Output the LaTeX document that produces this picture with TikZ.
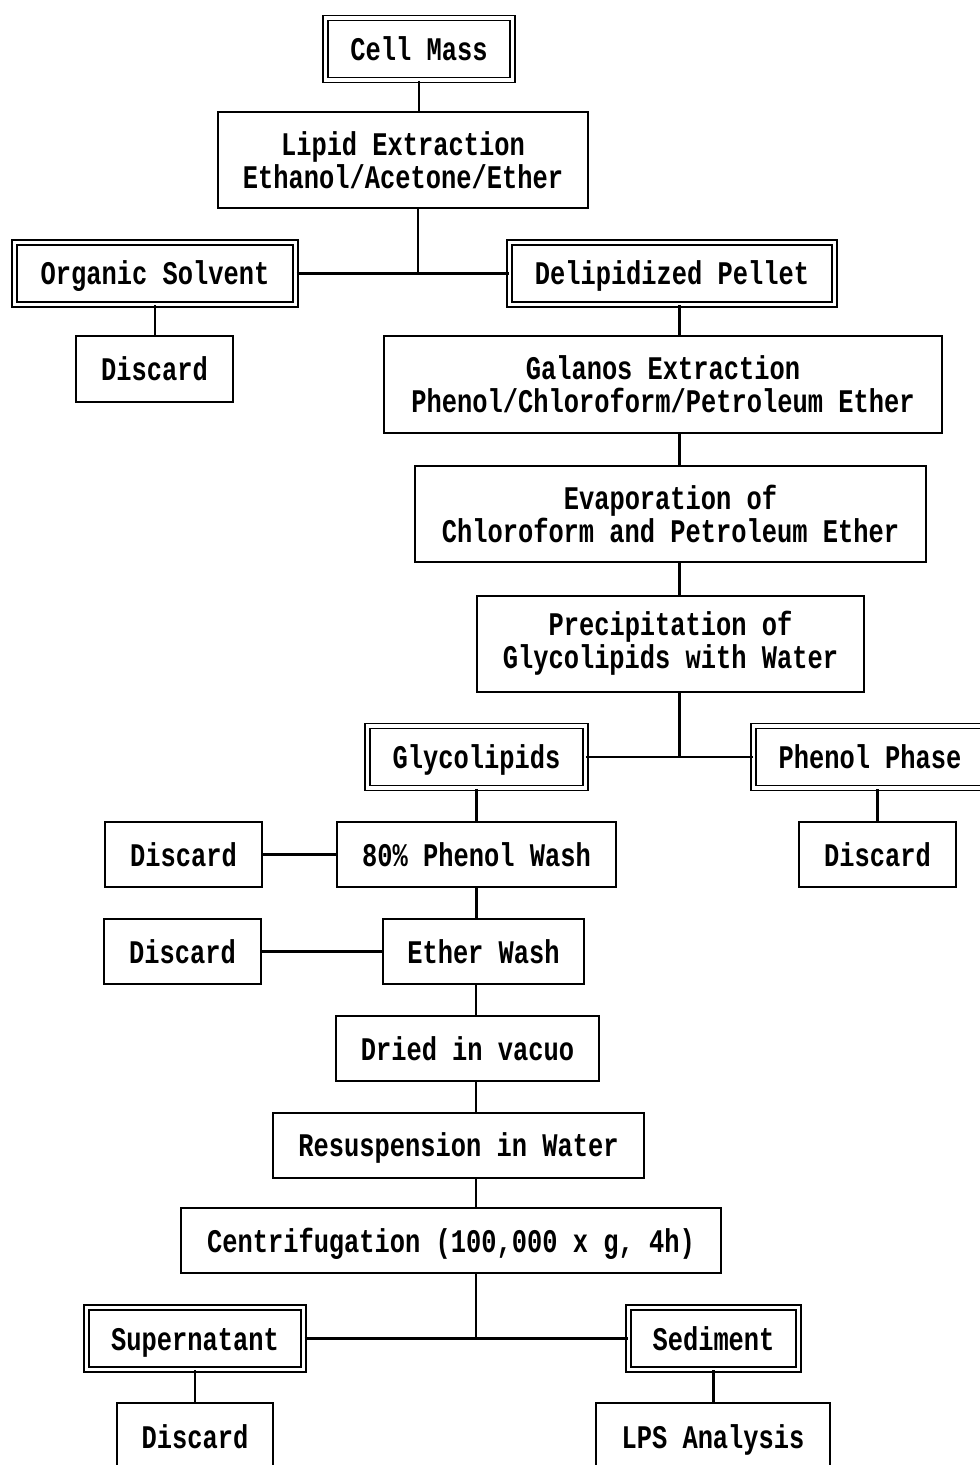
\documentclass[tikz,border=0pt]{standalone}
\usepackage{fontspec}
\newfontfamily\flowfont[FakeStretch=0.77]{Liberation Mono}
\usepackage{tikz}
\tikzset{
  box base/.style={
    draw,
    line width=1pt,
    inner sep=0pt,
    align=center,
    font=\flowfont\bfseries\fontsize{16.5}{16.5}\selectfont
  },
  step box/.style={
    box base,
    minimum height=32.5pt,
    text height=13pt,
    text depth=1.5pt
  },
  tall box/.style={
    box base,
    minimum height=48pt
  },
  fraction box/.style={
    step box,
    line width=0.9pt,
    double,
    double distance=1.6pt,
    minimum height=31pt
  },
  link/.style={
    line width=1.1pt
  }
}

\begin{document}
\begin{tikzpicture}[x=0.5pt,y=-0.5pt]

    \useasboundingbox (0,0) rectangle (979,1465);

    % ---------- 脂質抽出 ----------
    \node[fraction box, minimum width=93.6pt] (cell) at (419,49) {Cell Mass};
    \node[tall box, minimum width=185pt] (lipid) at (403,160.5)
      {Lipid Extraction\\Ethanol/Acetone/Ether};

    \node[fraction box, minimum width=140.6pt] (organic) at (155,273.5) {Organic Solvent};
    \node[fraction box, minimum width=162.6pt] (delip) at (672,273.5) {Delipidized Pellet};
    \node[step box, minimum width=78.5pt] (discardA) at (154.5,369) {Discard};

    % ---------- Galanos 抽出 ----------
    \node[tall box, minimum width=279pt] (galanos) at (663,384.5)
      {Galanos Extraction\\Phenol/Chloroform/Petroleum Ether};
    \node[tall box, minimum width=255.5pt] (evap) at (670.5,514)
      {Evaporation of\\Chloroform and Petroleum Ether};
    \node[tall box, minimum width=193.5pt] (precip) at (670.5,643.5)
      {Precipitation of\\Glycolipids with Water};

    \node[fraction box, minimum width=109pt] (glyco) at (476.5,757) {Glycolipids};
    \node[fraction box, minimum width=116.6pt] (phenol) at (870,757) {Phenol Phase};

    % ---------- 洗浄 ----------
    \node[step box, minimum width=78.5pt] (discardB) at (183.5,854.5) {Discard};
    \node[step box, minimum width=139.5pt] (pwash) at (476.5,854.5) {80\% Phenol Wash};
    \node[step box, minimum width=78.5pt] (discardC) at (877.5,854.5) {Discard};

    \node[step box, minimum width=78.5pt] (discardD) at (182.5,951.5) {Discard};
    \node[step box, minimum width=100.5pt] (ewash) at (483.5,951.5) {Ether Wash};

    \node[step box, minimum width=131.5pt] (dried) at (467.5,1048.5) {Dried in vacuo};
    \node[step box, minimum width=185.5pt] (resusp) at (458.5,1145) {Resuspension in Water};
    \node[step box, minimum width=270pt] (centri) at (451,1240.5)
      {Centrifugation (100,000 x g, 4h)};

    % ---------- 遠心分離の結果 ----------
    \node[fraction box, minimum width=108.6pt] (super) at (195,1338.5) {Supernatant};
    \node[fraction box, minimum width=85pt] (sediment) at (713.5,1338.5) {Sediment};
    \node[step box, minimum width=78pt, minimum height=33.5pt] (discardE) at (195,1436.5) {Discard};
    \node[step box, minimum width=117pt, minimum height=33.5pt] (lps) at (713,1436.5) {LPS Analysis};

    % ---------- 接続線 ----------
    \coordinate (forkA) at (418,273.5);
    \coordinate (spineA) at (679.5,757);
    \coordinate (spineB) at (476,1338.5);

    \draw[link] (cell.south) -- (cell.south |- lipid.north);
    \draw[link] (lipid.south -| forkA) -- (forkA);
    \draw[link] (organic.east) -- (delip.west);
    \draw[link] (organic.south) -- (organic.south |- discardA.north);

    \draw[link] (delip.south -| spineA) -- (galanos.north -| spineA);
    \draw[link] (galanos.south -| spineA) -- (evap.north -| spineA);
    \draw[link] (evap.south -| spineA) -- (precip.north -| spineA);
    \draw[link] (precip.south -| spineA) -- (spineA);
    \draw[link] (glyco.east) -- (phenol.west);

    \draw[link] (glyco.south) -- (pwash.north);
    \draw[link] (discardC.north) -- (discardC.north |- phenol.south);
    \draw[link] (discardB.east) -- (pwash.west);
    \draw[link] (pwash.south) -- (pwash.south |- ewash.north);
    \draw[link] (discardD.east) -- (ewash.west);

    \draw[link] (ewash.south -| spineB) -- (dried.north -| spineB);
    \draw[link] (dried.south -| spineB) -- (resusp.north -| spineB);
    \draw[link] (resusp.south -| spineB) -- (centri.north -| spineB);
    \draw[link] (centri.south -| spineB) -- (spineB);
    \draw[link] (super.east) -- (sediment.west);

    \draw[link] (super.south) -- (super.south |- discardE.north);
    \draw[link] (sediment.south) -- (sediment.south |- lps.north);

  \end{tikzpicture}
\end{document}
